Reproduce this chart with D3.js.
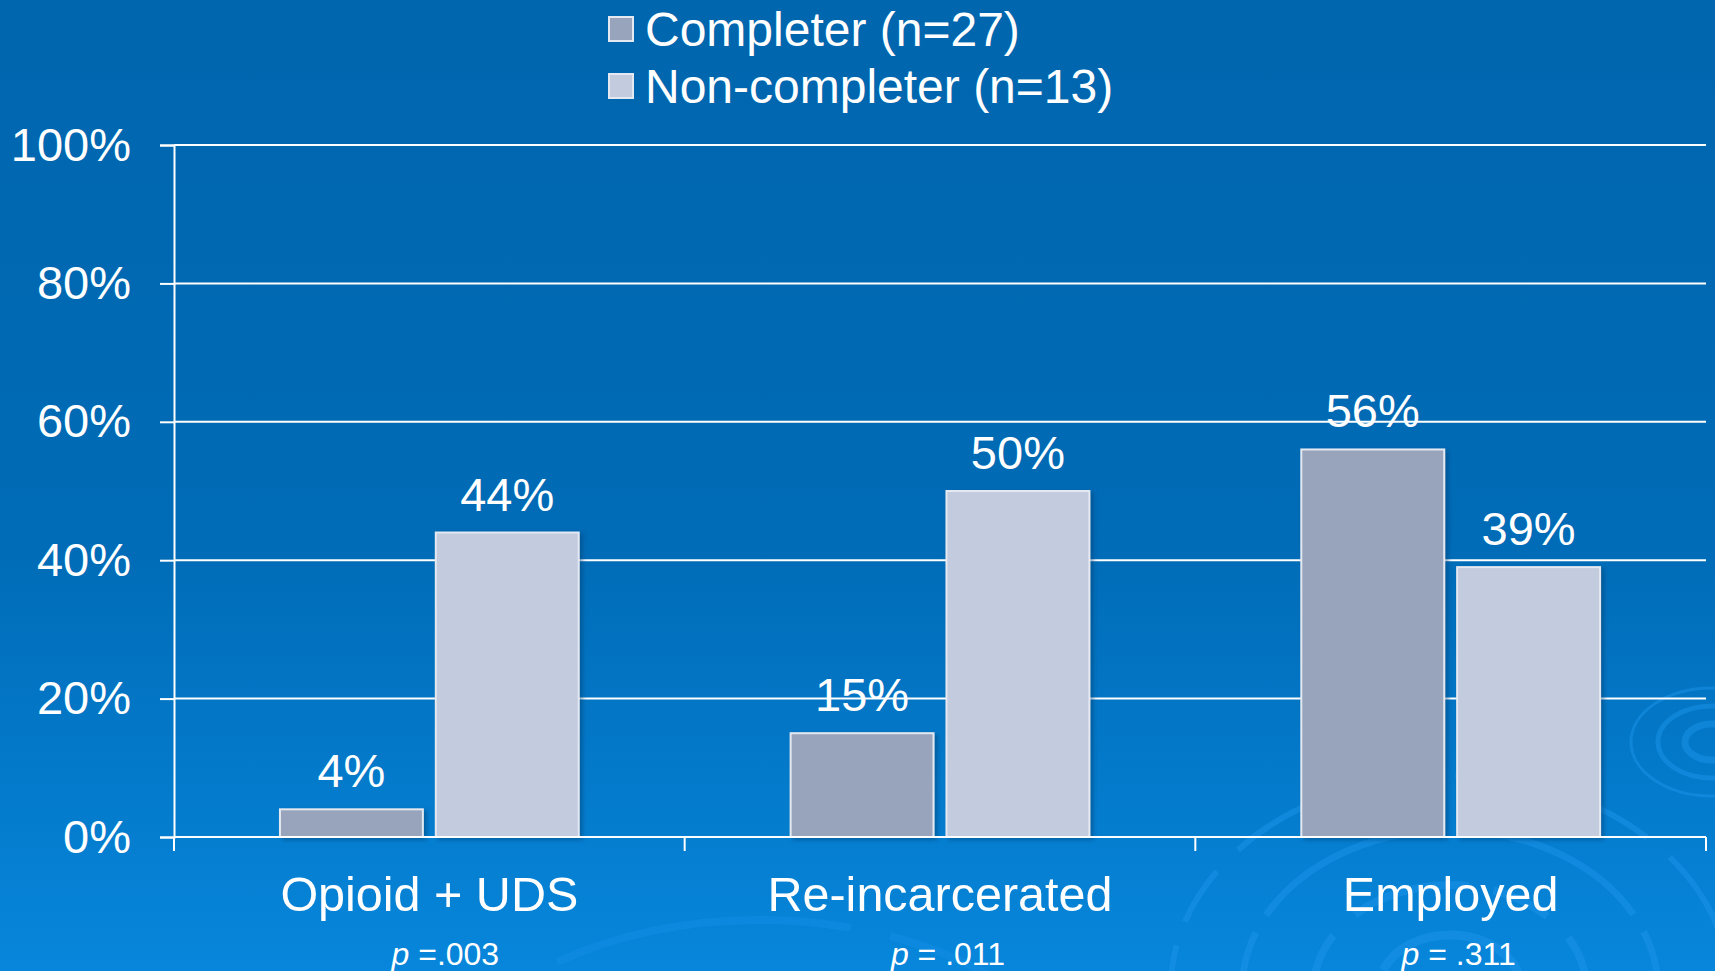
<!DOCTYPE html>
<html>
<head>
<meta charset="utf-8">
<script src="https://cdn.jsdelivr.net/npm/d3@7"></script>
<style>
  html, body { margin: 0; padding: 0; overflow: hidden; }
  svg { display: block; font-family: "Liberation Sans", Arial, sans-serif; }
</style>
</head>
<body>
<svg id="draw-here"></svg>
<script>
// data
const categories = ["Opioid + UDS", "Re-incarcerated", "Employed"];
const seriesNames = ["Completer (n=27)", "Non-completer (n=13)"];
const completer = [4, 15, 56];
const nonCompleter = [44, 50, 39];
const pLabels = [" =.003", " = .011", " = .311"];
const yTicks = [0, 20, 40, 60, 80, 100];

const W = 1715, H = 971;
const margin = {top: 145, right: 9, bottom: 134, left: 174};
const colors = ["#98a4bb", "#c3cbdf"];

let svg = d3.select('#draw-here')
  .attr('width', W)
  .attr('height', H);

// background
let defs = svg.append('defs');
let grad = defs.append('linearGradient')
  .attr('id', 'bg').attr('x1', 0).attr('y1', 0).attr('x2', 0).attr('y2', 1);
grad.append('stop').attr('offset', '0%').attr('stop-color', '#0066ae');
grad.append('stop').attr('offset', '55%').attr('stop-color', '#006bb6');
grad.append('stop').attr('offset', '100%').attr('stop-color', '#0786db');

let shadow = defs.append('filter').attr('id', 'shadow')
  .attr('x', '-10%').attr('y', '-10%').attr('width', '130%').attr('height', '130%');
shadow.append('feDropShadow').attr('dx', 3).attr('dy', 2).attr('stdDeviation', 2)
  .attr('flood-color', '#003a6a').attr('flood-opacity', 0.45);

svg.append('rect').attr('width', W).attr('height', H).attr('fill', 'url(#bg)');

// faint water ripples in the corner
let ripples = svg.append('g').attr('fill', 'none').attr('stroke', '#1b93ea')
  .attr('stroke-opacity', 0.5);
[55, 105, 160, 215].forEach((r, i) => {
  ripples.append('ellipse')
    .attr('cx', 1450).attr('cy', 990)
    .attr('rx', r * 1.3).attr('ry', r)
    .attr('stroke-width', 9 - i)
    .attr('stroke-dasharray', i % 2 ? '120 25 60 30' : '200 20');
});
[18, 36, 54].forEach((r, i) => {
  ripples.append('ellipse')
    .attr('cx', 1712).attr('cy', 742)
    .attr('rx', r * 1.5).attr('ry', r)
    .attr('stroke-width', 7 - i * 2);
});
[190].forEach(r => {
  ripples.append('ellipse')
    .attr('cx', 760).attr('cy', 1110)
    .attr('rx', r * 1.7).attr('ry', r)
    .attr('stroke-width', 8)
    .attr('stroke-opacity', 0.35)
    .attr('stroke-dasharray', '300 40');
});

let plotW = W - margin.left - margin.right;
let plotH = H - margin.top - margin.bottom;

let g = svg.append('g')
  .attr('transform', `translate(${margin.left},${margin.top})`);

let x0 = d3.scaleBand().domain(categories).range([0, plotW]).padding(0);
let x1 = d3.scaleBand().domain(seriesNames).range([0, x0.bandwidth()])
  .paddingInner(0.083).paddingOuter(0.68);
let y = d3.scaleLinear().domain([0, 100]).range([plotH, 0]);

// gridlines
g.append('g')
  .selectAll('line')
  .data(yTicks.filter(t => t > 0))
  .enter().append('line')
  .attr('x1', 0).attr('x2', plotW)
  .attr('y1', d => y(d)).attr('y2', d => y(d))
  .attr('stroke', '#ffffff').attr('stroke-width', 2);

// y axis
let yAxis = g.append('g')
  .call(d3.axisLeft(y).tickValues(yTicks).tickFormat(d => d + '%').tickSize(14).tickPadding(29));
yAxis.select('.domain').attr('stroke', '#ffffff').attr('stroke-width', 2);
yAxis.selectAll('.tick line').attr('stroke', '#ffffff').attr('stroke-width', 2);
yAxis.selectAll('.tick text')
  .attr('fill', '#ffffff')
  .style('font-size', '47px')
  .style('font-family', '"Liberation Sans", Arial, sans-serif');

// bars
let rows = categories.map((c, i) => ({cat: c, vals: [completer[i], nonCompleter[i]]}));

let groups = g.selectAll('.cat')
  .data(rows)
  .enter().append('g')
  .attr('class', 'cat')
  .attr('transform', d => `translate(${x0(d.cat)},0)`);

groups.selectAll('rect')
  .data(d => d.vals.map((v, i) => ({key: seriesNames[i], v: v, i: i})))
  .enter().append('rect')
  .attr('x', d => x1(d.key))
  .attr('y', d => y(d.v))
  .attr('width', x1.bandwidth())
  .attr('height', d => y(0) - y(d.v))
  .attr('fill', d => colors[d.i])
  .attr('stroke', '#e4e8f0')
  .attr('stroke-width', 2)
  .attr('filter', 'url(#shadow)');

groups.selectAll('.val')
  .data(d => d.vals.map((v, i) => ({key: seriesNames[i], v: v, i: i})))
  .enter().append('text')
  .attr('class', 'val')
  .attr('x', d => x1(d.key) + x1.bandwidth() / 2)
  .attr('y', d => y(d.v) - 22)
  .attr('text-anchor', 'middle')
  .attr('fill', '#ffffff')
  .style('font-size', '47px')
  .text(d => d.v + '%');

// x axis
let xAxis = g.append('g')
  .attr('transform', `translate(0,${plotH})`)
  .call(d3.axisBottom(x0).tickSize(0).tickFormat(''));
xAxis.select('.domain').attr('stroke', '#ffffff').attr('stroke-width', 2)
  .attr('d', `M0,0H${plotW}`);
xAxis.selectAll('.tick').remove();

let bounds = categories.map(c => x0(c)).concat([plotW]);
xAxis.selectAll('.sep')
  .data(bounds)
  .enter().append('line')
  .attr('x1', d => d).attr('x2', d => d)
  .attr('y1', 0).attr('y2', 14)
  .attr('stroke', '#ffffff').attr('stroke-width', 2);

xAxis.selectAll('.cat-label')
  .data(categories)
  .enter().append('text')
  .attr('x', d => x0(d) + x0.bandwidth() / 2)
  .attr('y', 74)
  .attr('text-anchor', 'middle')
  .attr('fill', '#ffffff')
  .style('font-size', '48.5px')
  .text(d => d);

let pl = xAxis.selectAll('.p-label')
  .data(categories)
  .enter().append('text')
  .attr('x', (d, i) => x0(d) + x0.bandwidth() / 2 + (i == 0 ? 16 : 8))
  .attr('y', 128)
  .attr('text-anchor', 'middle')
  .attr('fill', '#ffffff')
  .style('font-size', '32px')
  .style('white-space', 'pre');
pl.append('tspan').style('font-style', 'italic').text('p');
pl.append('tspan').text((d, i) => pLabels[i]);

// legend
let legend = svg.append('g').attr('transform', 'translate(609,0)');
let li = legend.selectAll('.li')
  .data(seriesNames)
  .enter().append('g')
  .attr('transform', (d, i) => `translate(0,${29 + i * 57})`);
li.append('rect')
  .attr('x', 0).attr('y', -12)
  .attr('width', 24).attr('height', 24)
  .attr('fill', (d, i) => colors[i])
  .attr('stroke', '#e4e8f0').attr('stroke-width', 2);
li.append('text')
  .attr('x', 36).attr('y', 0)
  .attr('dy', '0.35em')
  .attr('fill', '#ffffff')
  .style('font-size', '48px')
  .text(d => d);
</script>
</body>
</html>
